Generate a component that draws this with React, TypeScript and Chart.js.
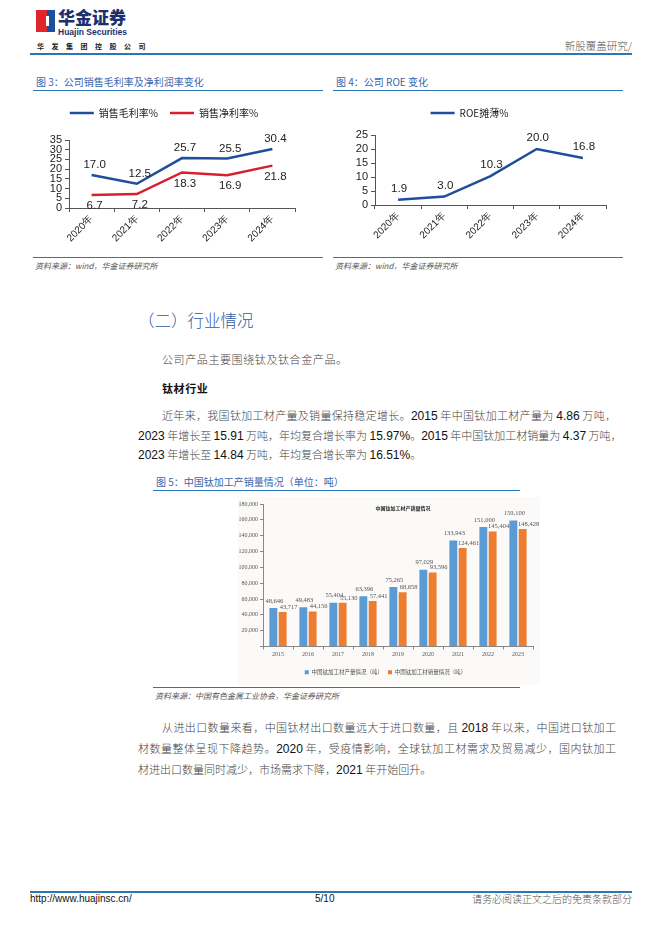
import React, { useEffect, useRef } from "react";
import { Chart, registerables } from "chart.js";
Chart.register(...registerables);

// ---------- data ----------
const marginYears = ["2020年", "2021年", "2022年", "2023年", "2024年"];
const grossMargin = [17.0, 12.5, 25.7, 25.5, 30.4];
const netMargin = [6.7, 7.2, 18.3, 16.9, 21.8];
const roeYears = ["2020年", "2021年", "2022年", "2023年", "2024年"];
const roeDiluted = [1.9, 3.0, 10.3, 20.0, 16.8];
const tiYears = ["2015", "2016", "2017", "2018", "2019", "2020", "2021", "2022", "2023"];
const tiOutput = [48646, 49483, 55404, 63396, 75265, 97029, 133943, 151000, 159100];
const tiSales = [43717, 44156, 55130, 57441, 68658, 93596, 124461, 145404, 148428];

const SANS = "'Liberation Sans', Arial, sans-serif";
const CJK = "'Noto Sans CJK SC', 'Liberation Sans', sans-serif";
const SERIF = "'Liberation Serif', 'DejaVu Serif', serif";
const TITLE_BLUE = "#3a66ad";
const LINE_BLUE = "#2a77b8";

type LabelCfg = { color: string; font: string; dx: number; dy: number; fmt: (v: number) => string };

function makeLabelPlugin(id: string, sets: LabelCfg[], title?: { text: string; font: string }) {
  return {
    id,
    afterDatasetsDraw(chart: any) {
      const ctx = chart.ctx;
      ctx.save();
      chart.data.datasets.forEach((ds: any, i: number) => {
        const cfg = sets[i];
        if (!cfg) return;
        const meta = chart.getDatasetMeta(i);
        meta.data.forEach((el: any, j: number) => {
          const v = ds.data[j] as number;
          ctx.font = cfg.font;
          ctx.fillStyle = cfg.color;
          ctx.textAlign = "center";
          ctx.textBaseline = "middle";
          ctx.fillText(cfg.fmt(v), el.x + cfg.dx, el.y + cfg.dy);
        });
      });
      if (title) {
        const a = chart.chartArea;
        ctx.font = title.font;
        ctx.fillStyle = "#222";
        ctx.textAlign = "center";
        ctx.textBaseline = "middle";
        ctx.fillText(title.text, (a.left + a.right) / 2 + 5, a.top + 4);
      }
      ctx.restore();
    },
  };
}

function legendGap(extra: number) {
  return {
    id: "legendGap",
    beforeInit(chart: any) {
      const lg = chart.legend;
      if (!lg) return;
      const fit = lg.fit;
      lg.fit = function () {
        fit.bind(lg)();
        this.height += extra;
      };
    },
  };
}

function useChart(build: (c: HTMLCanvasElement) => Chart) {
  const ref = useRef<HTMLCanvasElement | null>(null);
  useEffect(() => {
    if (!ref.current) return;
    const ch = build(ref.current);
    return () => ch.destroy();
  }, []);
  return ref;
}

function lineAxes(max: number, yWidth: number, xHeight: number) {
  return {
    x: {
      offset: true,
      grid: { display: true, drawOnChartArea: false, drawTicks: true, tickLength: 4, color: "#555", offset: true },
      border: { display: true, color: "#555", width: 1 },
      ticks: { minRotation: 45, maxRotation: 45, font: { size: 10, family: SANS }, color: "#222", padding: 1 },
      afterFit: (s: any) => { s.height = xHeight; },
    },
    y: {
      min: 0,
      max,
      grid: { display: true, drawOnChartArea: false, drawTicks: true, tickLength: 4, color: "#555" },
      border: { display: true, color: "#555", width: 1 },
      ticks: { stepSize: 5, autoSkip: false, font: { size: 11, family: SANS }, color: "#222", padding: 3 },
      afterFit: (s: any) => { s.width = yWidth; },
    },
  };
}

function MarginChart() {
  const ref = useChart((c) =>
    new Chart(c, {
      type: "line",
      data: {
        labels: marginYears,
        datasets: [
          { label: "销售毛利率%", data: grossMargin, borderColor: "#1f4f9c", backgroundColor: "#1f4f9c", borderWidth: 2.5, pointRadius: 0, tension: 0 },
          { label: "销售净利率%", data: netMargin, borderColor: "#d6202f", backgroundColor: "#d6202f", borderWidth: 2.5, pointRadius: 0, tension: 0 },
        ],
      },
      options: {
        animation: false,
        responsive: false,
        maintainAspectRatio: false,
        layout: { padding: { top: 0, right: 28, left: 0, bottom: 0 } },
        plugins: {
          legend: {
            display: true,
            labels: { usePointStyle: true, pointStyle: "line", pointStyleWidth: 24, boxHeight: 8, font: { size: 10, family: CJK }, color: "#222", padding: 12 },
          },
          tooltip: { enabled: false },
        },
        scales: lineAxes(35, 36, 46) as any,
      },
      plugins: [
        legendGap(12),
        makeLabelPlugin("mLabels", [
          { color: "#222", font: `11.5px ${SANS}`, dx: 3, dy: -10, fmt: (v) => v.toFixed(1) },
          { color: "#222", font: `11.5px ${SANS}`, dx: 3, dy: 11, fmt: (v) => v.toFixed(1) },
        ]),
      ],
    })
  );
  return <canvas ref={ref} width={290} height={158} style={{ position: "absolute", left: 33, top: 96, width: 290, height: 158 }} />;
}

function RoeChart() {
  const ref = useChart((c) =>
    new Chart(c, {
      type: "line",
      data: {
        labels: roeYears,
        datasets: [
          { label: "ROE摊薄%", data: roeDiluted, borderColor: "#1f4f9c", backgroundColor: "#1f4f9c", borderWidth: 2.5, pointRadius: 0, tension: 0 },
        ],
      },
      options: {
        animation: false,
        responsive: false,
        maintainAspectRatio: false,
        layout: { padding: { top: 0, right: 17, left: 0, bottom: 0 } },
        plugins: {
          legend: {
            display: true,
            labels: { usePointStyle: true, pointStyle: "line", pointStyleWidth: 24, boxHeight: 8, font: { size: 10, family: CJK }, color: "#222", padding: 12 },
          },
          tooltip: { enabled: false },
        },
        scales: lineAxes(25, 42, 49) as any,
      },
      plugins: [
        legendGap(7),
        makeLabelPlugin("rLabels", [
          { color: "#222", font: `11.5px ${SANS}`, dx: 1, dy: -11, fmt: (v) => v.toFixed(1) },
        ]),
      ],
    })
  );
  return <canvas ref={ref} width={290} height={158} style={{ position: "absolute", left: 333, top: 96, width: 290, height: 158 }} />;
}

function TiChart() {
  const ref = useChart((c) =>
    new Chart(c, {
      type: "bar",
      data: {
        labels: tiYears,
        datasets: [
          { label: "中国钛加工材产量情况（吨）", data: tiOutput, backgroundColor: "#5b9bd5", categoryPercentage: 0.62, barPercentage: 0.85 },
          { label: "中国钛加工材销量情况（吨）", data: tiSales, backgroundColor: "#ed7d31", categoryPercentage: 0.62, barPercentage: 0.85 },
        ],
      },
      options: {
        animation: false,
        responsive: false,
        maintainAspectRatio: false,
        layout: { padding: { top: 7, right: 7, left: 0, bottom: 0 } },
        plugins: {
          legend: {
            display: true,
            position: "bottom",
            labels: { boxWidth: 4, boxHeight: 4, font: { size: 5.5, family: CJK }, color: "#555", padding: 5 },
          },
          tooltip: { enabled: false },
        },
        scales: {
          x: {
            grid: { display: true, drawOnChartArea: false, drawTicks: true, tickLength: 3, color: "#888", offset: true },
            border: { display: true, color: "#888" },
            ticks: { font: { size: 6, family: SERIF }, color: "#555", padding: 1, maxRotation: 0 },
            afterFit: (s: any) => { s.height = 18; },
          },
          y: {
            min: 0,
            max: 180000,
            grid: { display: true, drawOnChartArea: false, drawTicks: true, tickLength: 3, color: "#888" },
            border: { display: true, color: "#888" },
            ticks: {
              stepSize: 20000,
              autoSkip: false,
              font: { size: 6, family: SERIF },
              color: "#555",
              padding: 2,
              callback: (v: any) => (v === 0 ? "" : Number(v).toLocaleString("en-US")),
            },
            afterFit: (s: any) => { s.width = 25; },
          },
        },
      },
      plugins: [
        makeLabelPlugin(
          "tLabels",
          [
            { color: "#555", font: `6.5px ${SERIF}`, dx: 1, dy: -7, fmt: (v) => v.toLocaleString("en-US") },
            { color: "#555", font: `6.5px ${SERIF}`, dx: 6, dy: -5, fmt: (v) => v.toLocaleString("en-US") },
          ],
          { text: "中国钛加工材产销量情况", font: `bold 5px ${CJK}` }
        ),
      ],
    })
  );
  return <canvas ref={ref} width={302} height={188} style={{ position: "absolute", left: 238, top: 497, width: 302, height: 188, background: "#fbfaf8" }} />;
}

// ---------- text helpers ----------
function Rich({ text }: { text: string }) {
  const parts = text.split(/([0-9][0-9.,%]*)/);
  return (
    <>
      {parts.map((p, i) =>
        /^[0-9]/.test(p) ? (
          <span key={i} style={{ fontFamily: SANS, color: "#111", fontSize: 12 }}>{p}</span>
        ) : (
          <span key={i}>{p}</span>
        )
      )}
    </>
  );
}

function Line({ x, y, w, text, justify = true, ls = 0 }: { x: number; y: number; w: number; text: string; justify?: boolean; ls?: number }) {
  return (
    <div
      style={{
        position: "absolute",
        left: x,
        top: y,
        width: w,
        fontFamily: CJK,
        fontWeight: 300,
        fontSize: 11,
        lineHeight: "16px",
        color: "#444",
        whiteSpace: "nowrap",
        letterSpacing: ls,
        textAlign: justify ? "justify" : "left",
        textAlignLast: justify ? "justify" : "left",
      }}
    >
      <Rich text={text} />
    </div>
  );
}

const abs = (x: number, y: number, extra: React.CSSProperties = {}): React.CSSProperties => ({ position: "absolute", left: x, top: y, ...extra });

function FigTitle({ x, y, w, text }: { x: number; y: number; w: number; text: string }) {
  return (
    <>
      <div style={abs(x + 3, y, { fontFamily: CJK, fontSize: 10, color: TITLE_BLUE, whiteSpace: "nowrap", lineHeight: "12px" })}>{text}</div>
      <div style={abs(x, y + 14, { width: w, height: 1.3, background: LINE_BLUE })} />
    </>
  );
}

function Source({ x, y, w, text }: { x: number; y: number; w: number; text: string }) {
  return (
    <>
      <div style={abs(x, y, { width: w, height: 1.3, background: LINE_BLUE })} />
      <div style={abs(x + 2, y + 4, { fontFamily: CJK, fontSize: 8, fontStyle: "italic", color: "#555", whiteSpace: "nowrap", lineHeight: "10px" })}>{text}</div>
    </>
  );
}

export default function App() {
  return (
    <div style={{ position: "absolute", left: 0, top: 0, width: 662, height: 936, background: "#fff", overflow: "hidden" }}>
      {/* header */}
      <div style={abs(36, 10, { width: 11, height: 22, background: "#e0262c" })} />
      <div style={abs(47, 10, { width: 8, height: 22, background: "#1d4f9e" })} />
      <div style={abs(46, 16, { width: 3, height: 10, background: "#fff" })} />
      <div style={abs(58, 7, { fontFamily: CJK, fontWeight: 900, fontSize: 17, color: "#1c2f6e", letterSpacing: 0, lineHeight: "20px", whiteSpace: "nowrap" })}>华金证券</div>
      <div style={abs(58, 27, { fontFamily: SANS, fontWeight: 700, fontSize: 8.5, color: "#1c2f6e", lineHeight: "10px", whiteSpace: "nowrap" })}>Huajin Securities</div>
      <div style={abs(37, 41, { fontFamily: CJK, fontWeight: 700, fontSize: 7, color: "#222", letterSpacing: 7.5, lineHeight: "10px", whiteSpace: "nowrap" })}>华发集团控股公司</div>
      <div style={abs(632 - 120, 40, { width: 120, textAlign: "right", fontFamily: CJK, fontWeight: 300, fontSize: 10.5, color: "#555", lineHeight: "12px", whiteSpace: "nowrap" })}>新股覆盖研究/</div>
      <div style={abs(30, 53, { width: 602, height: 1.5, background: LINE_BLUE })} />

      {/* figures 3 & 4 */}
      <FigTitle x={33} y={76} w={290} text="图 3：公司销售毛利率及净利润率变化" />
      <FigTitle x={333} y={76} w={290} text="图 4：公司 ROE 变化" />
      <MarginChart />
      <RoeChart />
      <Source x={33} y={257} w={290} text="资料来源：wind，华金证券研究所" />
      <Source x={333} y={257} w={290} text="资料来源：wind，华金证券研究所" />

      {/* section */}
      <div style={abs(138, 309, { fontFamily: CJK, fontWeight: 300, fontSize: 16.5, color: "#2d5ba6", lineHeight: "22px", whiteSpace: "nowrap" })}>（二）行业情况</div>
      <Line x={162} y={351} w={200} text="公司产品主要围绕钛及钛合金产品。" justify={false} ls={0.6} />
      <div style={abs(162, 380, { fontFamily: CJK, fontWeight: 700, fontSize: 11, color: "#111", lineHeight: "16px", whiteSpace: "nowrap", letterSpacing: 0.6 })}>钛材行业</div>
      <Line x={162} y={407} w={454} text="近年来，我国钛加工材产量及销量保持稳定增长。2015 年中国钛加工材产量为 4.86 万吨，" />
      <Line x={138} y={427} w={478} text="2023 年增长至 15.91 万吨，年均复合增长率为 15.97%。2015 年中国钛加工材销量为 4.37 万吨，" />
      <Line x={138} y={446} w={300} text="2023 年增长至 14.84 万吨，年均复合增长率为 16.51%。" justify={false} />

      {/* figure 5 */}
      <FigTitle x={153} y={476} w={367} text="图 5：中国钛加工产销量情况（单位：吨）" />
      <TiChart />
      <Source x={153} y={687} w={367} text="资料来源：中国有色金属工业协会，华金证券研究所" />

      <Line x={162} y={719} w={454} text="从进出口数量来看，中国钛材出口数量远大于进口数量，且 2018 年以来，中国进口钛加工" />
      <Line x={138} y={740} w={478} text="材数量整体呈现下降趋势。2020 年，受疫情影响，全球钛加工材需求及贸易减少，国内钛加工" />
      <Line x={138} y={761} w={400} text="材进出口数量同时减少，市场需求下降，2021 年开始回升。" justify={false} />

      {/* footer */}
      <div style={abs(30, 891, { width: 602, height: 1.5, background: LINE_BLUE })} />
      <div style={abs(30, 893, { fontFamily: SANS, fontSize: 10, color: "#111", lineHeight: "12px" })}>http://www.huajinsc.cn/</div>
      <div style={abs(315, 893, { fontFamily: SANS, fontSize: 10, color: "#111", lineHeight: "12px" })}>5/10</div>
      <div style={abs(632 - 170, 893, { width: 170, textAlign: "right", fontFamily: CJK, fontWeight: 300, fontSize: 10, color: "#555", lineHeight: "12px", whiteSpace: "nowrap" })}>请务必阅读正文之后的免责条款部分</div>
    </div>
  );
}
